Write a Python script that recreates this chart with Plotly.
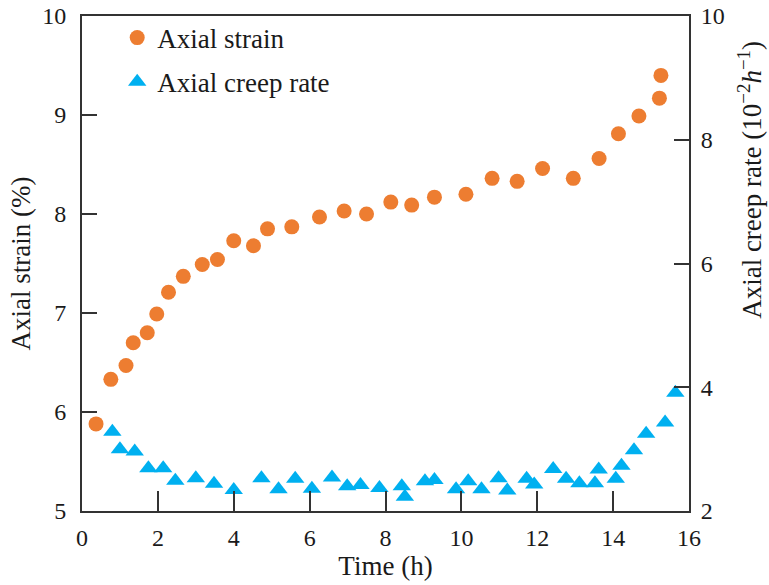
import plotly.graph_objects as go

# Axial strain (%) data
strain_time = [0.37, 0.76, 1.16, 1.35, 1.72, 1.97, 2.28, 2.67, 3.17, 3.57, 4.00, 4.52, 4.89,
               5.53, 6.26, 6.91, 7.50, 8.14, 8.69, 9.29, 10.12, 10.81, 11.47, 12.14, 12.95,
               13.63, 14.14, 14.68, 15.22, 15.26]
strain_val = [5.88, 6.33, 6.47, 6.70, 6.80, 6.99, 7.21, 7.37, 7.49, 7.54, 7.73, 7.68, 7.85,
              7.87, 7.97, 8.03, 8.00, 8.12, 8.09, 8.17, 8.20, 8.36, 8.33, 8.46, 8.36,
              8.56, 8.81, 8.99, 9.17, 9.40]

# Axial creep rate (10^-2 h^-1) data
rate_time = [0.80, 1.00, 1.39, 1.75, 2.14, 2.46, 3.00, 3.48, 4.00, 4.73, 5.18, 5.62, 6.06,
             6.59, 6.99, 7.34, 7.84, 8.43, 8.51, 9.04, 9.29, 9.86, 10.18, 10.53, 10.98,
             11.21, 11.72, 11.92, 12.42, 12.76, 13.11, 13.52, 13.62, 14.07, 14.22, 14.55,
             14.87, 15.37, 15.64]
rate_val = [3.28, 3.00, 2.96, 2.69, 2.69, 2.49, 2.53, 2.44, 2.34, 2.53, 2.35, 2.52, 2.36,
            2.54, 2.40, 2.42, 2.37, 2.40, 2.23, 2.48, 2.50, 2.35, 2.48, 2.35, 2.53,
            2.33, 2.52, 2.43, 2.68, 2.52, 2.45, 2.45, 2.67, 2.52, 2.73, 2.98,
            3.25, 3.43, 3.91]

x_ticks = [0, 2, 4, 6, 8, 10, 12, 14, 16]
y1_ticks = [5, 6, 7, 8, 9, 10]
y2_ticks = [2, 4, 6, 8, 10]

FONT = "Liberation Serif"
AX = "#333333"
TXT = "#1a1a1a"

fig = go.Figure()
fig.add_trace(go.Scatter(
    x=strain_time, y=strain_val, mode="markers", name="Axial strain", legendgroup="a",
    marker=dict(symbol="circle", size=15, color="#ED7D31"),
))
fig.add_trace(go.Scatter(
    x=rate_time, y=rate_val, mode="markers", name="Axial creep rate", yaxis="y2",
    legendgroup="b",
    marker=dict(symbol="triangle-up", size=16, color="#00B0F0"),
))

fig.update_layout(
    width=769, height=585,
    margin=dict(l=82, r=80, t=16, b=74),
    paper_bgcolor="white", plot_bgcolor="white",
    font=dict(family=FONT, size=24, color=TXT),
    showlegend=True,
    legend=dict(x=0.058, y=1.005, xanchor="left", yanchor="top",
                bgcolor="rgba(0,0,0,0)", font=dict(size=27, family=FONT, color=TXT),
                itemsizing="trace", tracegroupgap=6, traceorder="grouped"),
    xaxis=dict(
        range=[0, 16], tickvals=x_ticks, ticktext=[str(v) for v in x_ticks],
        ticks="inside", ticklen=20, tickwidth=2, tickcolor=AX,
        showline=True, linecolor=AX, linewidth=2, mirror=True,
        showgrid=False, zeroline=False, automargin=False,
        ticklabelstandoff=4,
        tickfont=dict(size=24, family=FONT, color=TXT),
        title=dict(text="Time (h)", font=dict(size=27, family=FONT, color=TXT), standoff=4),
    ),
    yaxis=dict(
        range=[5, 10], tickvals=y1_ticks, ticktext=[str(v) for v in y1_ticks],
        ticks="inside", ticklen=15, tickwidth=2, tickcolor=AX,
        showline=True, linecolor=AX, linewidth=2,
        showgrid=False, zeroline=False, automargin=False,
        ticklabelstandoff=9,
        tickfont=dict(size=24, family=FONT, color=TXT),
        title=dict(text="Axial strain (%)", font=dict(size=27, family=FONT, color=TXT), standoff=4),
    ),
    yaxis2=dict(
        range=[2, 10], tickvals=y2_ticks, ticktext=[str(v) for v in y2_ticks],
        overlaying="y", side="right",
        ticks="inside", ticklen=15, tickwidth=2, tickcolor=AX,
        showline=True, linecolor=AX, linewidth=2,
        showgrid=False, zeroline=False, automargin=False,
        ticklabelstandoff=5,
        tickfont=dict(size=24, family=FONT, color=TXT),
    ),
    annotations=[dict(
        text="Axial creep rate (10<sup>−2</sup><i>h</i><sup>−1</sup>)",
        xref="paper", yref="paper", x=1, y=0.669, xanchor="center", yanchor="middle",
        xshift=61, textangle=-90, showarrow=False,
        font=dict(size=27, family=FONT, color=TXT),
    )],
)

fig.write_html("out.html")
